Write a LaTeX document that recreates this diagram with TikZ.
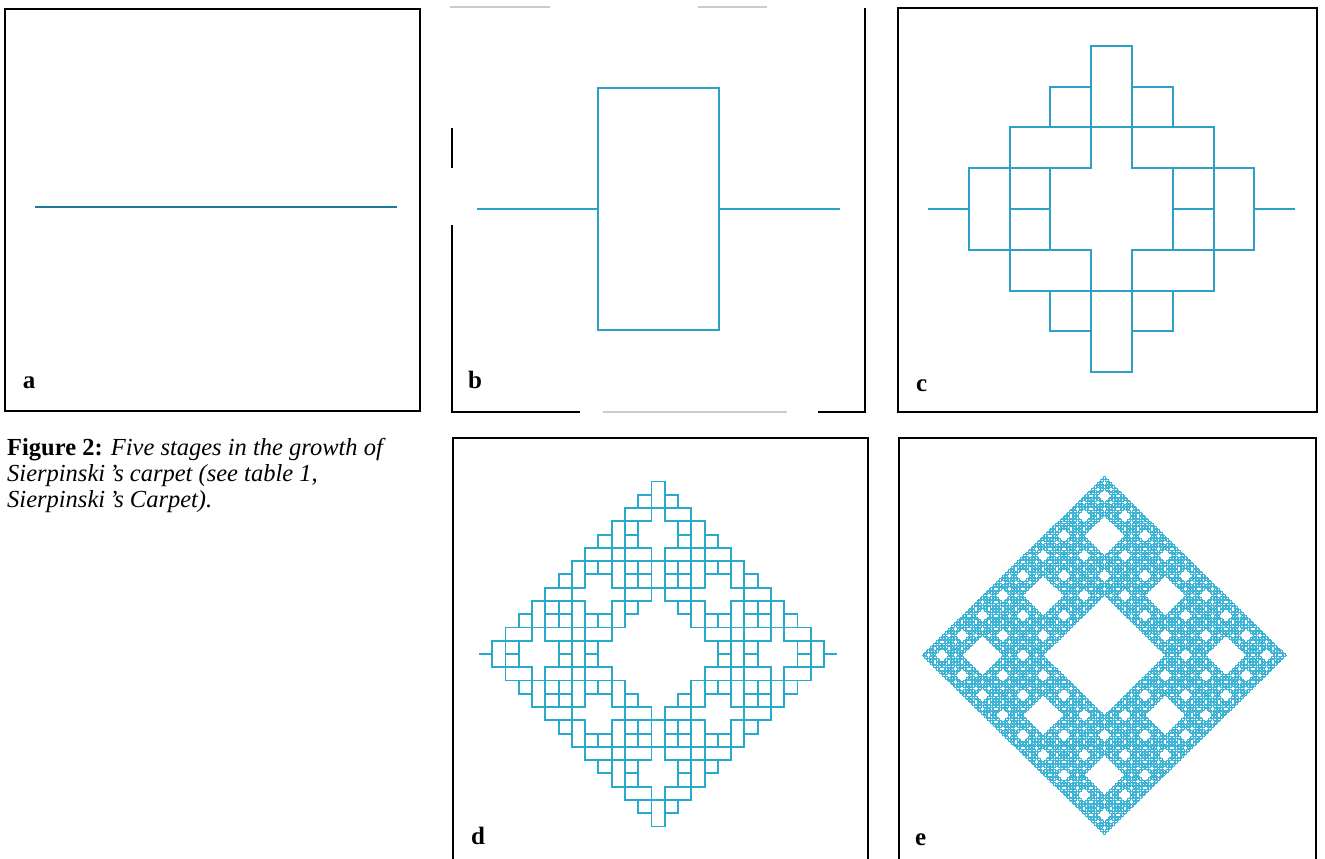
\documentclass[tikz,border=0pt]{standalone}
\usepackage{fontspec}
\setmainfont{Liberation Serif}
\usetikzlibrary{lindenmayersystems}
\pgfdeclarelindenmayersystem{carpet}{
  \rule{F -> F+F-F-F-f+F+F+F-F}
  \rule{f -> fff}
}
\definecolor{curvecol}{RGB}{45,160,200}
\definecolor{curvedcol}{RGB}{40,170,205}
\definecolor{curveecol}{RGB}{60,180,214}
\definecolor{curveacol}{RGB}{30,120,150}
\definecolor{faintcol}{RGB}{205,205,205}
\begin{document}
\begin{tikzpicture}[x=1pt,y=-1pt,
  frame/.style={line width=2pt, black},
  faintframe/.style={line width=2pt, faintcol},
  curveline/.style={line width=#1, line join=miter},
  lbl/.style={font=\fontsize{25}{28}\selectfont\bfseries, anchor=base west, inner sep=0pt},
  captxt/.style={font=\fontsize{24.5}{26}\selectfont, anchor=base west, inner sep=0pt}]
\useasboundingbox[fill=white] (0,0) rectangle (1325,859);

% ---------- panel a ----------
\draw[frame] (4.5,9) rectangle (420,410.7);
\draw[draw=curveacol, line width=2pt] (35,206.7) -- (397,206.7);
\node[lbl] (la) at (22.7,388) {a};

% ---------- panel b ----------
\draw[faintframe] (450,7) -- (550,7);
\draw[faintframe] (698,7) -- (767,7);
\draw[frame] (452.3,128) -- (452.3,168);
\draw[frame] (452.3,225) -- (452.3,411.7) -- (580,411.7);
\draw[faintframe] (603,411.7) -- (787,411.7);
\draw[frame] (818,411.7) -- (865,411.7) -- (865,8);
\begin{scope}[shift={(477.3,209)}]
  \draw[curveline=2pt, draw=curvecol, l-system={carpet, axiom=F, order=1, step=120.9pt, angle=90}] (0,0) lindenmayer system;
\end{scope}
\node[lbl] (lb) at (468,388) {b};

% ---------- panel c ----------
\draw[frame] (898.3,8.3) rectangle (1317.3,412.3);
\begin{scope}[shift={(928,209)}]
  \draw[curveline=2pt, draw=curvecol, l-system={carpet, axiom=F, order=2, step=40.8pt, angle=90}] (0,0) lindenmayer system;
\end{scope}
\node[lbl] (lc) at (916,391) {c};

% ---------- panel d ----------
\draw[frame] (453.3,862) -- (453.3,437.7) -- (867.7,437.7) -- (867.7,862);
\begin{scope}[shift={(479,654)}]
  \draw[curveline=1.9pt, draw=curvedcol, l-system={carpet, axiom=F, order=3, step=13.27pt, angle=90}] (0,0) lindenmayer system;
\end{scope}
\node[lbl] (ld) at (471,844) {d};

% ---------- panel e (next stage: eight copies of the order-4 curve) ----------
\draw[frame] (899,862) -- (899,437.7) -- (1316,437.7) -- (1316,862);
\begin{scope}[shift={(0,655.3)}, yscale=0.983]
  \foreach \dx/\dy/\rot in {0/0/0, 1/0/90, 1/-1/0, 2/0/90, 1/1/90, 1/1/0, 2/1/90, 2/0/0}{
    \begin{scope}[shift={({921.7+\dx*121.67},{\dy*121.67})}, rotate=\rot]
      \draw[curveline=0.8pt, draw=curveecol, l-system={carpet, axiom=F, order=4, step=1.5021pt, angle=90}] (0,0) lindenmayer system;
    \end{scope}
  }
\end{scope}
\node[lbl] (le) at (915,845) {e};

% ---------- caption ----------
\node[captxt] (cap1) at (7,455) {\textbf{Figure 2:} \textit{Five stages in the growth of}};
\node[captxt] (cap2) at (7,481.5) {\textit{Sierpinski\,’s carpet (see table 1,}};
\node[captxt] (cap3) at (7,507.5) {\textit{Sierpinski\,’s Carpet).}};
\end{tikzpicture}
\end{document}
